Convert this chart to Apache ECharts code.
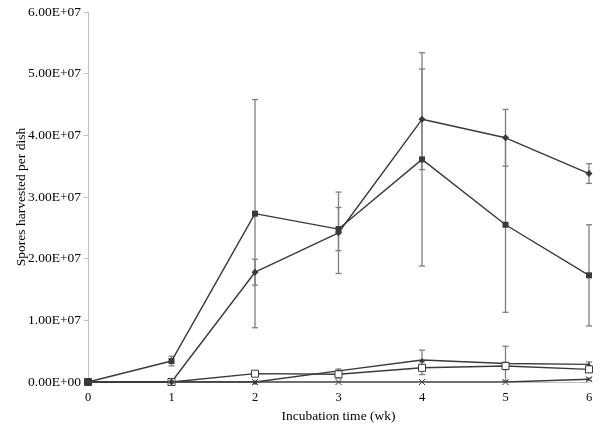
<!DOCTYPE html>
<html>
<head>
<meta charset="utf-8">
<script src="https://cdn.jsdelivr.net/npm/echarts@6/dist/echarts.min.js"></script>
<style>html,body{margin:0;padding:0;background:#fff;}#c{width:600px;height:434px;}</style>
</head>
<body>
<div id="c"></div>
<script>
var weeks = [0, 1, 2, 3, 4, 5, 6];
var yTickLabels = ['0.00E+00', '1.00E+07', '2.00E+07', '3.00E+07', '4.00E+07', '5.00E+07', '6.00E+07'];
var diamondVals = [0, 0, 1.78e7, 2.42e7, 4.26e7, 3.96e7, 3.38e7];
var diamondErr  = [0, 0, 2.1e6, 6.6e6, 8.15e6, 4.6e6, 1.6e6];
var squareVals  = [0, 3.4e6, 2.73e7, 2.48e7, 3.61e7, 2.55e7, 1.73e7];
var squareErr   = [0, 7.8e5, 1.85e7, 3.5e6, 1.73e7, 1.42e7, 8.2e6];
var openSqVals  = [0, 0, 1.35e6, 1.25e6, 2.3e6, 2.6e6, 2.05e6];
var openSqErr   = [0, 0, 3.7e5, 6e5, 1.1e6, 6e5, 5e5];
var triVals     = [0, 0, 0, 1.8e6, 3.57e6, 3.0e6, 2.85e6];
var triErr      = [0, 0, 0, 3e5, 1.6e6, 2.8e6, 4e5];
var crossVals   = [0, 0, 0, 0, 0, 0, 4.4e5];
var crossErr    = [0, 0, 0, 0, 0, 0, 2e5];

var lineColor = '#3a3a3a';
var errColor = '#7f7f7f';
var font = 'Liberation Serif';

function pairs(vals) { return weeks.map(function (w, i) { return [w, vals[i]]; }); }
function errData(vals, errs) {
  var out = [];
  weeks.forEach(function (w, i) { if (errs[i] > 0) out.push([w, vals[i] - errs[i], vals[i] + errs[i]]); });
  return out;
}
function errSeries(vals, errs) {
  return {
    type: 'custom',
    data: errData(vals, errs),
    z: 1,
    silent: true,
    renderItem: function (params, api) {
      var x = api.value(0);
      var lo = api.coord([x, api.value(1)]);
      var hi = api.coord([x, api.value(2)]);
      var w = 3;
      var st = { stroke: errColor, lineWidth: 1.3 };
      return {
        type: 'group',
        children: [
          { type: 'line', shape: { x1: lo[0], y1: lo[1], x2: hi[0], y2: hi[1] }, style: st },
          { type: 'line', shape: { x1: lo[0] - w, y1: lo[1], x2: lo[0] + w, y2: lo[1] }, style: st },
          { type: 'line', shape: { x1: hi[0] - w, y1: hi[1], x2: hi[0] + w, y2: hi[1] }, style: st }
        ]
      };
    }
  };
}
function lineSeries(vals, symbol, size, filled) {
  return {
    type: 'line',
    data: pairs(vals),
    symbol: symbol,
    symbolSize: size,
    showAllSymbol: true,
    z: 3,
    lineStyle: { color: lineColor, width: 1.4 },
    itemStyle: filled ? { color: lineColor, borderColor: lineColor, borderWidth: 0 }
                      : { color: '#ffffff', borderColor: lineColor, borderWidth: 1 }
  };
}
var crossPath = 'path://M0,0 L10,10 M10,0 L0,10';

var chart = echarts.init(document.getElementById('c'), null, { renderer: 'canvas' });
chart.setOption({
  animation: false,
  backgroundColor: '#ffffff',
  grid: { left: 88, right: 11, top: 12, bottom: 52, containLabel: false, outerBoundsMode: 'none' },
  xAxis: {
    type: 'value', min: 0, max: 6, interval: 1,
    name: 'Incubation time (wk)', nameLocation: 'middle', nameGap: 27, nameMoveOverlap: false,
    nameTextStyle: { fontFamily: font, fontSize: 13.5, color: '#000' },
    axisLine: { lineStyle: { color: '#bfbfbf', width: 1 } },
    axisTick: { show: false },
    splitLine: { show: false },
    axisLabel: { fontFamily: font, fontSize: 12.5, color: '#000', margin: 9 }
  },
  yAxis: {
    type: 'value', min: 0, max: 6e7, interval: 1e7,
    name: 'Spores harvested per dish', nameLocation: 'middle', nameGap: 60, nameMoveOverlap: false,
    nameTextStyle: { fontFamily: font, fontSize: 13.5, color: '#000' },
    axisLine: { show: true, lineStyle: { color: '#bfbfbf', width: 1 } },
    axisTick: { show: true, length: 4, lineStyle: { color: '#bfbfbf' } },
    splitLine: { show: false },
    axisLabel: {
      fontFamily: font, fontSize: 13.5, color: '#000', margin: 7,
      formatter: function (v) { return yTickLabels[Math.round(v / 1e7)]; }
    }
  },
  series: [
    errSeries(diamondVals, diamondErr),
    errSeries(squareVals, squareErr),
    errSeries(openSqVals, openSqErr),
    errSeries(triVals, triErr),
    errSeries(crossVals, crossErr),
    lineSeries(crossVals, crossPath, 6, false),
    lineSeries(triVals, 'triangle', 5, true),
    lineSeries(openSqVals, 'rect', 7, false),
    lineSeries(squareVals, 'rect', 6, true),
    lineSeries(diamondVals, 'diamond', 7, true)
  ]
});
</script>
</body>
</html>
